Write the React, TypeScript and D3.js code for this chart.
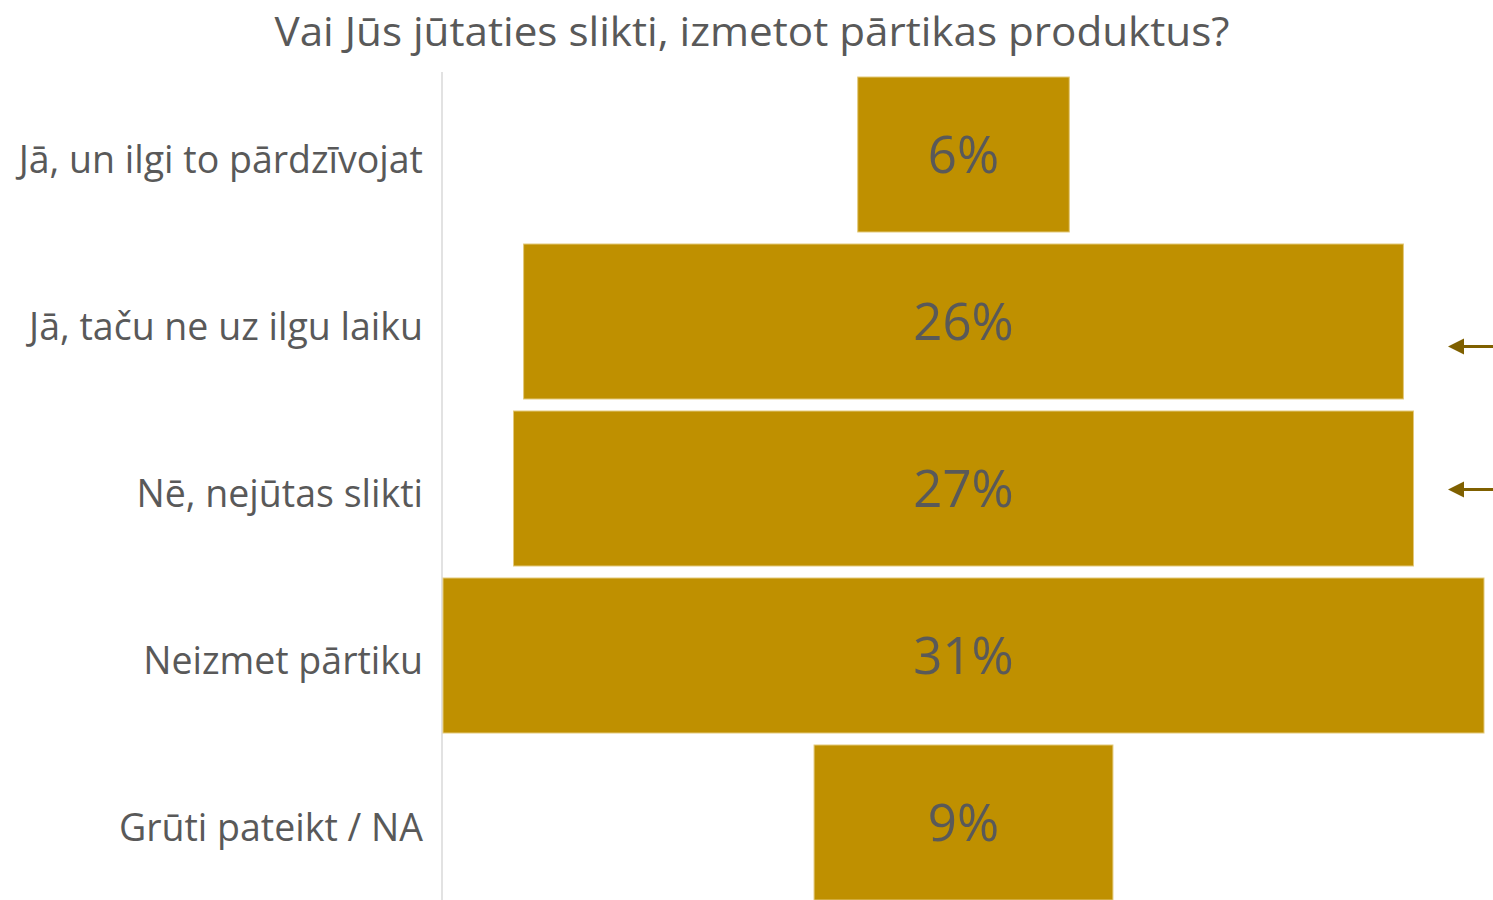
import React from "react";
import * as d3 from "d3";

const categories = [
  "Jā, un ilgi to pārdzīvojat",
  "Jā, taču ne uz ilgu laiku",
  "Nē, nejūtas slikti",
  "Neizmet pārtiku",
  "Grūti pateikt / NA",
];
const values = [6.3, 26.2, 26.8, 31.0, 8.9];
const arrowCategories = ["Jā, taču ne uz ilgu laiku", "Nē, nejūtas slikti"];
const arrowOffsets = [25, 1];
const title = "Vai Jūs jūtaties slikti, izmetot pārtikas produktus?";

export default function App() {
  const W = 1493;
  const H = 900;
  const left = 443;
  const right = 1484;
  const center = (left + right) / 2;
  const maxV = d3.max(values) as number;
  const w = d3.scaleLinear().domain([0, maxV]).range([0, right - left]);
  const y = d3
    .scaleBand<string>()
    .domain(categories)
    .range([71, 71 + 5 * 167])
    .paddingInner(12 / 167)
    .paddingOuter(6 / 167);
  const font = "Open Sans, sans-serif";
  const gray = "#595959";
  return (
    <svg
      width={W}
      height={H}
      style={{ position: "absolute", left: 0, top: 0, background: "#fff" }}
    >
      <text
        x={752}
        y={46}
        textAnchor="middle"
        fontFamily={font}
        fontSize={40}
        fill={gray}
        textLength={955}
        lengthAdjust="spacingAndGlyphs"
      >
        {title}
      </text>
      <line x1={442} x2={442} y1={72} y2={H} stroke="#d9d9d9" strokeWidth={1.5} />
      {categories.map((c, i) => {
        const bw = w(values[i]);
        const by = y(c) as number;
        const bh = y.bandwidth();
        return (
          <g key={c}>
            <rect
              x={center - bw / 2}
              y={by}
              width={bw}
              height={bh}
              fill="#BF9000"
              stroke="#e3c97a"
              strokeWidth={1}
            />
            <text
              x={center}
              y={by + bh / 2}
              dy="0.37em"
              textAnchor="middle"
              fontFamily={font}
              fontSize={51}
              fill={gray}
            >
              {Math.round(values[i])}%
            </text>
            <text
              x={423}
              y={by + bh / 2}
              dy="0.48em"
              textAnchor="end"
              fontFamily={font}
              fontSize={37.5}
              fill={gray}
            >
              {c}
            </text>
          </g>
        );
      })}
      {arrowCategories.map((c, i) => {
        const cy = (y(c) as number) + y.bandwidth() / 2 + arrowOffsets[i];
        return (
          <g key={c}>
            <line x1={1460} x2={W} y1={cy} y2={cy} stroke="#7F6000" strokeWidth={3} />
            <path
              d={`M1448,${cy} L1464,${cy - 8} L1464,${cy + 8} Z`}
              fill="#7F6000"
            />
          </g>
        );
      })}
    </svg>
  );
}
